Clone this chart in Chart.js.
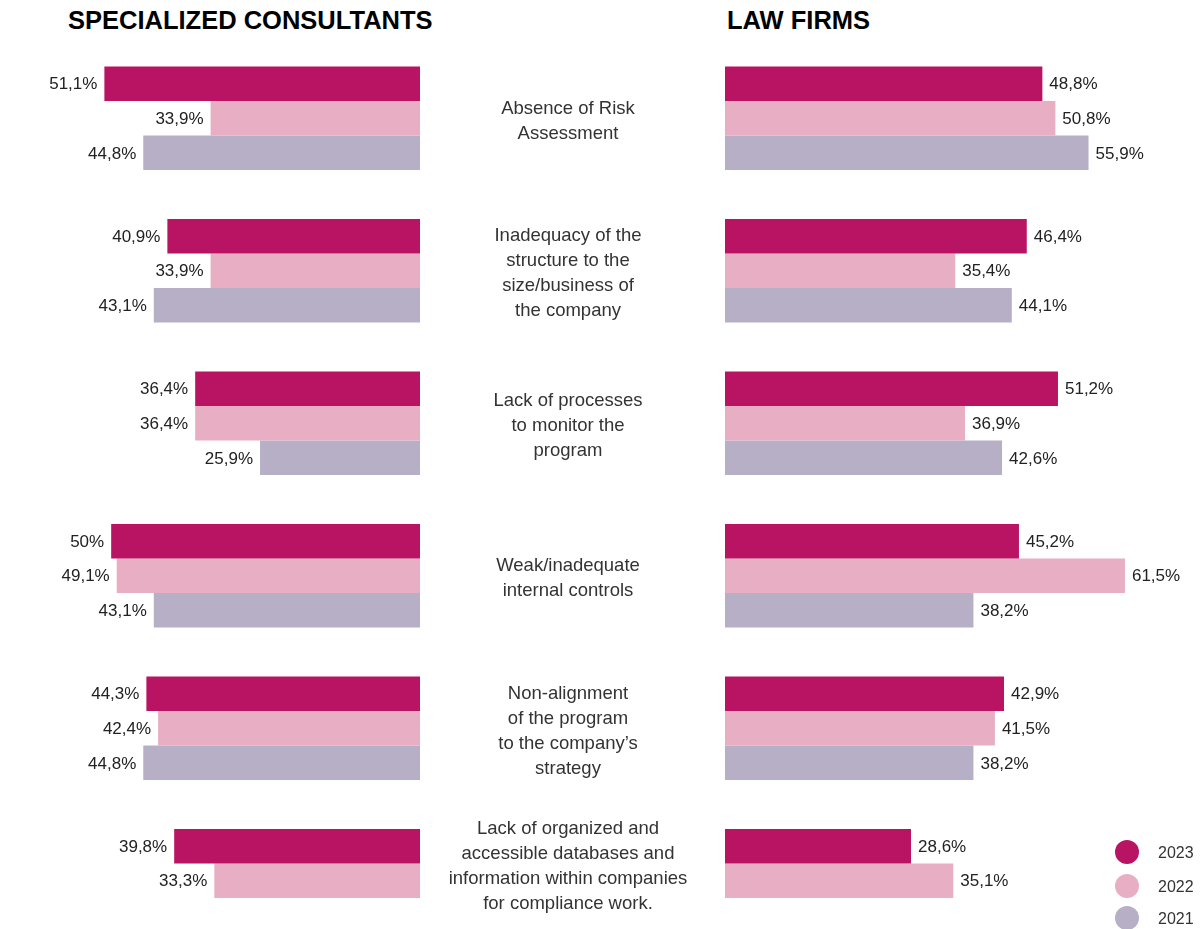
<!DOCTYPE html>
<html>
<head>
<meta charset="utf-8">
<script src="https://cdn.jsdelivr.net/npm/chart.js@4"></script>
<style>
  html, body { margin: 0; padding: 0; background: #fff; overflow: hidden; }
  body { width: 1203px; height: 929px; position: relative; font-family: "Liberation Sans", Arial, sans-serif; }
  .title { position: absolute; top: 6px; font-size: 25.5px; font-weight: bold; color: #000; white-space: nowrap; }
  #leftWrap { position: absolute; left: 0; top: 0; width: 425px; height: 1000px; }
  #rightWrap { position: absolute; left: 420px; top: 0; width: 783px; height: 1000px; }
  .legend { position: absolute; left: 1115px; font-size: 16px; color: #333; }
  .legend span.dot { position: absolute; left: 0; width: 24px; height: 24px; border-radius: 50%; }
  .legend span.txt { position: absolute; left: 43px; top: 4px; }
</style>
</head>
<body>

<div class="title" style="left:68px">SPECIALIZED CONSULTANTS</div>
<div class="title" style="left:727px">LAW FIRMS</div>

<div id="leftWrap"><canvas id="leftChart"></canvas></div>
<div id="rightWrap"><canvas id="rightChart"></canvas></div>

<div id="legend"></div>

<script>
//------------------------------------//
//-------------- Data ----------------//
//------------------------------------//

const categories = [
  ['Absence of Risk', 'Assessment'],
  ['Inadequacy of the', 'structure to the', 'size/business of', 'the company'],
  ['Lack of processes', 'to monitor the', 'program'],
  ['Weak/inadequate', 'internal controls'],
  ['Non-alignment', 'of the program', 'to the company\u2019s', 'strategy'],
  ['Lack of organized and', 'accessible databases and', 'information within companies', 'for compliance work.']
];

const years = ['2023', '2022', '2021'];
const yearColors = ['#B91464', '#E8AEC3', '#B6AFC6'];

// specialized consultants
const consult2023 = [51.1, 40.9, 36.4, 50, 44.3, 39.8];
const consult2022 = [33.9, 33.9, 36.4, 49.1, 42.4, 33.3];
const consult2021 = [44.8, 43.1, 25.9, 43.1, 44.8, null];

// law firms
const law2023 = [48.8, 46.4, 51.2, 45.2, 42.9, 28.6];
const law2022 = [50.8, 35.4, 36.9, 61.5, 41.5, 35.1];
const law2021 = [55.9, 44.1, 42.6, 38.2, 38.2, null];

//------------------------------------//
//------------- Helpers --------------//
//------------------------------------//

function fmt(v) {
  return String(v).replace('.', ',') + '%';
}

function makeDatasets(a, b, c) {
  return [a, b, c].map((vals, i) => ({
    label: years[i],
    data: vals,
    backgroundColor: yearColors[i],
    borderWidth: 0,
    categoryPercentage: 0.68,
    barPercentage: 1.0
  }));
}

// value labels next to the bar ends
const valueLabels = {
  id: 'valueLabels',
  afterDatasetsDraw(chart, args, opts) {
    const ctx = chart.ctx;
    ctx.save();
    ctx.font = '17px "Liberation Sans", Arial, sans-serif';
    ctx.fillStyle = '#222';
    ctx.textBaseline = 'middle';
    chart.data.datasets.forEach((ds, di) => {
      const meta = chart.getDatasetMeta(di);
      meta.data.forEach((bar, i) => {
        const v = ds.data[i];
        if (v == null) return;
        if (opts.side === 'left') {
          ctx.textAlign = 'right';
          ctx.fillText(fmt(v), bar.x - 7, bar.y + 1);
        } else {
          ctx.textAlign = 'left';
          ctx.fillText(fmt(v), bar.x + 7, bar.y + 1);
        }
      });
    });
    ctx.restore();
  }
};

// category texts in the gap between the two charts,
// centred on the bars that are actually drawn in each group
const centerLabels = {
  id: 'centerLabels',
  afterDraw(chart, args, opts) {
    const ctx = chart.ctx;
    const lineH = 25;
    ctx.save();
    ctx.font = '18.5px "Liberation Sans", Arial, sans-serif';
    ctx.fillStyle = '#333';
    ctx.textAlign = 'center';
    ctx.textBaseline = 'middle';
    chart.data.labels.forEach((lines, i) => {
      let ys = [];
      chart.data.datasets.forEach((ds, di) => {
        if (ds.data[i] != null) ys.push(chart.getDatasetMeta(di).data[i].y);
      });
      const cy = ys.reduce((s, y) => s + y, 0) / ys.length + 3;
      const y0 = cy - (lines.length - 1) * lineH / 2;
      lines.forEach((t, k) => ctx.fillText(t, opts.x, y0 + k * lineH));
    });
    ctx.restore();
  }
};

Chart.defaults.font.family = '"Liberation Sans", Arial, sans-serif';
Chart.defaults.animation = false;

//------------------------------------//
//----------- Left chart -------------//
//------------------------------------//

new Chart(document.getElementById('leftChart'), {
  type: 'bar',
  data: {
    labels: categories,
    datasets: makeDatasets(consult2023, consult2022, consult2021)
  },
  options: {
    indexAxis: 'y',
    responsive: true,
    maintainAspectRatio: false,
    layout: { padding: { top: 42, bottom: 43, left: 0, right: 5 } },
    scales: {
      x: { display: false, reverse: true, min: 0, max: 68 },
      y: { display: false }
    },
    plugins: {
      legend: { display: false },
      tooltip: { enabled: false },
      valueLabels: { side: 'left' }
    }
  },
  plugins: [valueLabels]
});

//------------------------------------//
//----------- Right chart ------------//
//------------------------------------//

new Chart(document.getElementById('rightChart'), {
  type: 'bar',
  data: {
    labels: categories,
    datasets: makeDatasets(law2023, law2022, law2021)
  },
  options: {
    indexAxis: 'y',
    responsive: true,
    maintainAspectRatio: false,
    layout: { padding: { top: 42, bottom: 43, left: 305, right: 0 } },
    scales: {
      x: { display: false, min: 0, max: 73.5 },
      y: { display: false }
    },
    plugins: {
      legend: { display: false },
      tooltip: { enabled: false },
      valueLabels: { side: 'right' },
      centerLabels: { x: 148 }
    }
  },
  plugins: [valueLabels, centerLabels]
});

//------------------------------------//
//------------- Legend ---------------//
//------------------------------------//

const legendTops = [840, 874, 906];
const legendBox = document.getElementById('legend');
legendBox.innerHTML = years.map((y, i) => `
  <div class="legend" style="top:${legendTops[i]}px">
    <span class="dot" style="background:${yearColors[i]}"></span>
    <span class="txt">${y}</span>
  </div>`).join('');
</script>
</body>
</html>
